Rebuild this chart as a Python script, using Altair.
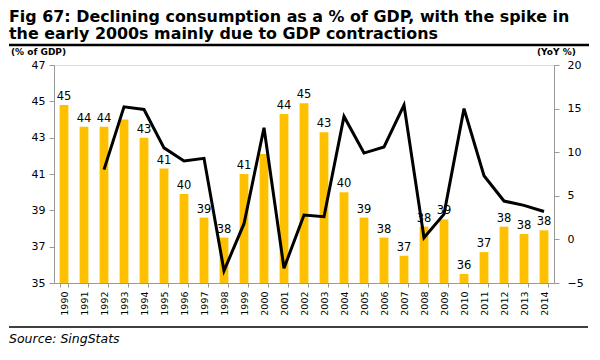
import altair as alt
import pandas as pd

years = [str(y) for y in range(1990, 2015)]
consumption = [44.8, 43.6, 43.6, 44.0, 43.0, 41.3, 39.9, 38.6, 37.5, 41.0, 42.1, 44.3,
               44.9, 43.3, 40.0, 38.6, 37.5, 36.5, 38.1, 38.5, 35.5, 36.7, 38.1, 37.7, 37.9]
bar_labels = ["45", "44", "44", "", "43", "41", "40", "39", "38", "41", "", "44",
              "45", "43", "40", "39", "38", "37", "38", "39", "36", "37", "38", "38", "38"]
yoy = [None, None, 8.0, 15.2, 14.9, 10.5, 9.0, 9.3, -3.6, 1.8, 12.8, -3.3,
       2.8, 2.6, 14.1, 9.9, 10.6, 15.4, 0.2, 2.9, 15.0, 7.3, 4.4, 3.9, 3.2]
left_ticks = [35, 37, 39, 41, 43, 45, 47]
right_ticks = [-5, 0, 5, 10, 15, 20]

title1 = "Fig 67: Declining consumption as a % of GDP, with the spike in"
title2 = "the early 2000s mainly due to GDP contractions"
left_unit = "(% of GDP)"
right_unit = "(YoY %)"
source = "Source: SingStats"

df = pd.DataFrame({"year": years, "cons": consumption, "lab": bar_labels, "yoy": yoy})
df_line = df.dropna(subset=["yoy"])

FONT = "DejaVu Sans"
W, H = 500, 218

x_axis = alt.Axis(labelAngle=270, labelFontSize=9.5, labelFont=FONT, labelColor="#000",
                  domainColor="#999", tickColor="#999", tickSize=4, tickBand="extent",
                  labelPadding=4, grid=False, labelOverlap=False)
x_enc = alt.X("year:N", sort=years, title=None,
              scale=alt.Scale(paddingInner=0.56, paddingOuter=0.28), axis=x_axis)

y_left = alt.Scale(domain=[35, 47], nice=False, zero=False)
left_axis = alt.Axis(values=left_ticks, tickCount=7, labelFontSize=11, labelFont=FONT,
                     labelColor="#000", domainColor="#999", tickColor="#999", tickSize=5,
                     labelPadding=4, grid=False, orient="left", labelOverlap=False)

bars = alt.Chart(df).mark_bar(color="#FFC000").encode(
    x=x_enc,
    y=alt.Y("cons:Q", scale=y_left, title=None, axis=left_axis),
    y2=alt.datum(35),
)
texts = alt.Chart(df).mark_text(baseline="bottom", dy=-3, fontSize=11.5, font=FONT, color="#000").encode(
    x=x_enc,
    y=alt.Y("cons:Q", scale=y_left, title=None, axis=left_axis),
    text="lab:N",
)
left_layer = alt.layer(bars, texts)

line = alt.Chart(df_line).mark_line(color="#000", strokeWidth=3).encode(
    x=x_enc,
    y=alt.Y("yoy:Q", scale=alt.Scale(domain=[-5, 20], nice=False, zero=False), title=None,
            axis=alt.Axis(values=right_ticks, labelFontSize=11, labelFont=FONT,
                          labelColor="#000", domainColor="#999", tickColor="#999", tickSize=5,
                          labelPadding=8, grid=False, orient="right", labelOverlap=False)),
)

one = pd.DataFrame({"a": [0]})
def txt(s, x, y, size, weight="normal", style="normal"):
    return alt.Chart(one).mark_text(text=s, align="left", baseline="alphabetic", fontSize=size,
                                    font=FONT, fontWeight=weight, fontStyle=style, color="#000").encode(
        x=alt.value(x), y=alt.value(y))

def hrule(x1, x2, y, w):
    return alt.Chart(one).mark_rule(color="#000", strokeWidth=w).encode(
        x=alt.value(x1), x2=alt.value(x2), y=alt.value(y))

deco = alt.layer(
    txt(title1, -45, -43, 15.9, "bold"),
    txt(title2, -45, -26, 15.9, "bold"),
    hrule(-45, 535, -20, 2.5),
    txt(left_unit, -43, -10, 9, "bold"),
    txt(right_unit, 483, -10, 9, "bold"),
    hrule(-45, 534, 262, 1.5),
    txt(source, -45, 278, 12.5, "normal", "italic"),
)

chart = alt.layer(left_layer, line, deco).resolve_scale(y="independent").properties(
    width=W, height=H,
    autosize=alt.AutoSizeParams(type="none"),
    padding={"left": 46, "top": 57, "right": 38, "bottom": 76},
).configure_view(stroke=None).configure(background="white")

chart.save("out.html", embed_options={"renderer": "svg", "actions": False})
